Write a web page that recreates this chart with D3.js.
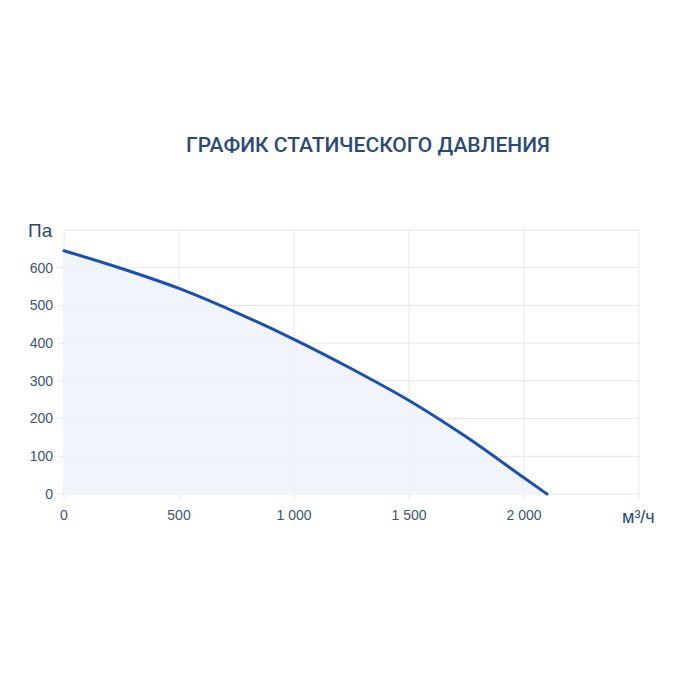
<!DOCTYPE html>
<html>
<head>
<meta charset="utf-8">
<script src="https://cdn.jsdelivr.net/npm/d3@7"></script>
<style>
	body { margin: 0; background: #ffffff; }
	svg { display: block; }
</style>
</head>
<body>
<svg width="700" height="700"></svg>
<script>
// flow, m3/h
var flow = [0, 250, 500, 750, 1000, 1250, 1500, 1750, 2000, 2100];
// static pressure, Pa
var pressure = [645, 598, 545, 481, 410, 332, 248, 151, 43, 0];
var xTicks = [0, 500, 1000, 1500, 2000];
var yTicks = [0, 100, 200, 300, 400, 500, 600];

var svg = d3.select("svg"),
	margin = {
		top: 230,
		right: 61,
		bottom: 206,
		left: 64
	},
	width = +svg.attr("width") - margin.left - margin.right,
	height = +svg.attr("height") - margin.top - margin.bottom;

var x = d3.scaleLinear().domain([0, 2500]).range([0, width]),
	y = d3.scaleLinear().domain([0, 700]).range([height, 0]);

var fmt = function(d) {
	return d3.format(",")(d).replace(/,/g, "\u00a0");
};

var data = flow.map(function(d, i) {
	return { q: d, p: pressure[i] };
});

svg.append("text")
	.attr("x", 368)
	.attr("y", 152)
	.attr("text-anchor", "middle")
	.style("font-family", "Roboto, sans-serif")
	.style("font-weight", "500")
	.style("font-size", "21px")
	.style("fill", "#2b4a7b")
	.text("ГРАФИК СТАТИЧЕСКОГО ДАВЛЕНИЯ");

var g = svg.append("g")
	.attr("transform", "translate(" + margin.left + "," + margin.top + ")");

// grid
g.selectAll(".hgrid")
	.data(yTicks.concat([700]))
	.enter().append("line")
	.attr("x1", function(d) { return d === 700 ? 0 : -6; })
	.attr("x2", width)
	.attr("y1", function(d) { return y(d); })
	.attr("y2", function(d) { return y(d); })
	.style("stroke", "#e3e6ec")
	.style("stroke-width", 1);

g.selectAll(".vgrid")
	.data(xTicks.concat([2500]))
	.enter().append("line")
	.attr("x1", function(d) { return x(d); })
	.attr("x2", function(d) { return x(d); })
	.attr("y1", 0)
	.attr("y2", height + 6)
	.style("stroke", "#e3e6ec")
	.style("stroke-width", 1);

var area = d3.area()
	.x(function(d) { return x(d.q); })
	.y0(height)
	.y1(function(d) { return y(d.p); })
	.curve(d3.curveMonotoneX);

var line = d3.line()
	.x(function(d) { return x(d.q); })
	.y(function(d) { return y(d.p); })
	.curve(d3.curveMonotoneX);

g.append("path")
	.datum(data)
	.attr("d", area)
	.style("fill", "#eef3fa")
	.style("fill-opacity", 0.85);

g.append("path")
	.datum(data)
	.attr("d", line)
	.style("fill", "none")
	.style("stroke", "#1a4fb4")
	.style("stroke-width", 3)
	.style("stroke-linecap", "round");

// tick labels
g.selectAll(".ylab")
	.data(yTicks)
	.enter().append("text")
	.attr("x", -11)
	.attr("y", function(d) { return y(d); })
	.attr("dy", "0.35em")
	.attr("text-anchor", "end")
	.style("font-family", "'Liberation Sans', Arial, sans-serif")
	.style("font-size", "14px")
	.style("fill", "#3b5478")
	.text(fmt);

g.selectAll(".xlab")
	.data(xTicks)
	.enter().append("text")
	.attr("x", function(d) { return x(d); })
	.attr("y", height + 26)
	.attr("text-anchor", "middle")
	.style("font-family", "'Liberation Sans', Arial, sans-serif")
	.style("font-size", "14px")
	.style("fill", "#3b5478")
	.text(fmt);

// units
svg.append("text")
	.attr("x", 28)
	.attr("y", 237)
	.style("font-family", "'Liberation Sans', Arial, sans-serif")
	.style("font-size", "19px")
	.style("fill", "#2f4a70")
	.text("Па");

svg.append("text")
	.attr("x", 622)
	.attr("y", 523)
	.style("font-family", "'Liberation Sans', Arial, sans-serif")
	.style("font-size", "18px")
	.style("fill", "#2f4a70")
	.text("м³/ч");
</script>
</body>
</html>
